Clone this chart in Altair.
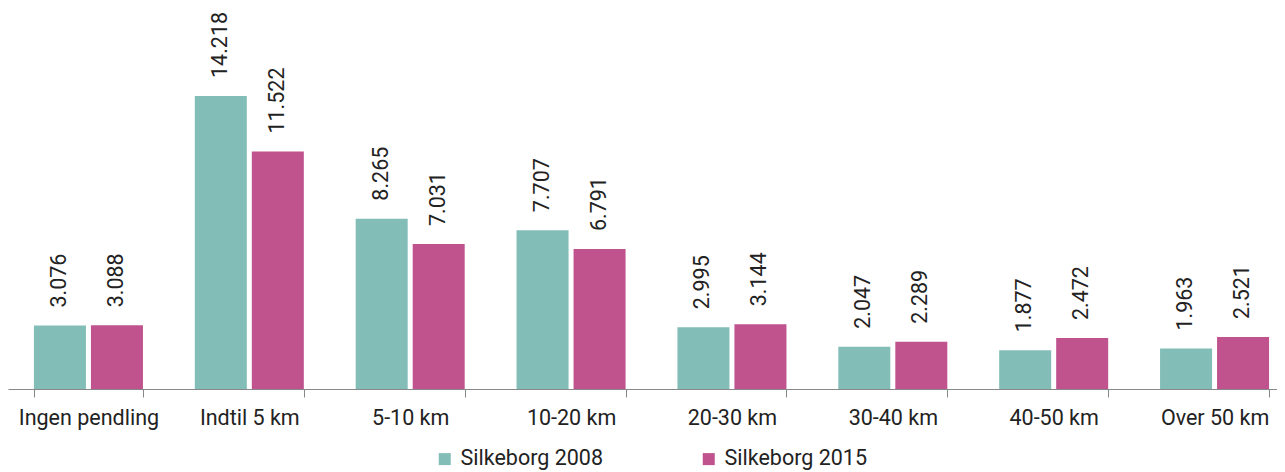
import altair as alt
import pandas as pd

categories = ["Ingen pendling", "Indtil 5 km", "5-10 km", "10-20 km",
              "20-30 km", "30-40 km", "40-50 km", "Over 50 km"]
series = ["Silkeborg 2008", "Silkeborg 2015"]
values_2008 = [3076, 14218, 8265, 7707, 2995, 2047, 1877, 1963]
values_2015 = [3088, 11522, 7031, 6791, 3144, 2289, 2472, 2521]
colors = ["#83BDB7", "#C0528E"]

rows = []
for s, vals in zip(series, [values_2008, values_2015]):
    for c, v in zip(categories, vals):
        rows.append({"cat": c, "series": s, "value": v,
                     "label": f"{v:,}".replace(",", ".")})
df = pd.DataFrame(rows)

FONT = "Roboto"
FS = 21.5

x = alt.X("cat:N", sort=categories, title=None,
          scale=alt.Scale(paddingInner=0.3224, paddingOuter=0.1612,
                          range=[0, 1287]),
          axis=alt.Axis(labelAngle=0, labelFontSize=FS, labelFont=FONT,
                        labelColor="#222222", labelPadding=10,
                        tickBand="extent", tickSize=8, tickColor="#888888",
                        domainColor="#888888", labelLimit=300))
xo = alt.XOffset("series:N", sort=series,
                 scale=alt.Scale(paddingInner=0.0877, paddingOuter=0))
y = alt.Y("value:Q", axis=None, scale=alt.Scale(domain=[0, 18490], nice=False))

base = alt.Chart(df).encode(x=x, xOffset=xo, y=y)

bars = base.mark_bar().encode(
    color=alt.Color("series:N", sort=series,
                    scale=alt.Scale(domain=series, range=colors),
                    legend=alt.Legend(title=None, orient="none",
                                      legendX=426, legendY=440,
                                      direction="horizontal",
                                      symbolType="square", symbolSize=144,
                                      symbolStrokeWidth=0,
                                      labelFontSize=FS, labelFont=FONT,
                                      labelColor="#222222",
                                      columnPadding=95, labelOffset=5))
)

labels = base.mark_text(angle=270, align="left", baseline="middle", dx=18,
                        fontSize=FS, font=FONT, color="#222222").encode(
    text="label:N"
)

chart = (bars + labels).properties(
    width=1269, height=381,
    padding={"left": 0, "top": 0, "right": 0, "bottom": 81},
    autosize=alt.AutoSizeParams(type="none"),
).configure_view(stroke=None)

chart.save("out.html", embed_options={"renderer": "svg", "actions": False})
